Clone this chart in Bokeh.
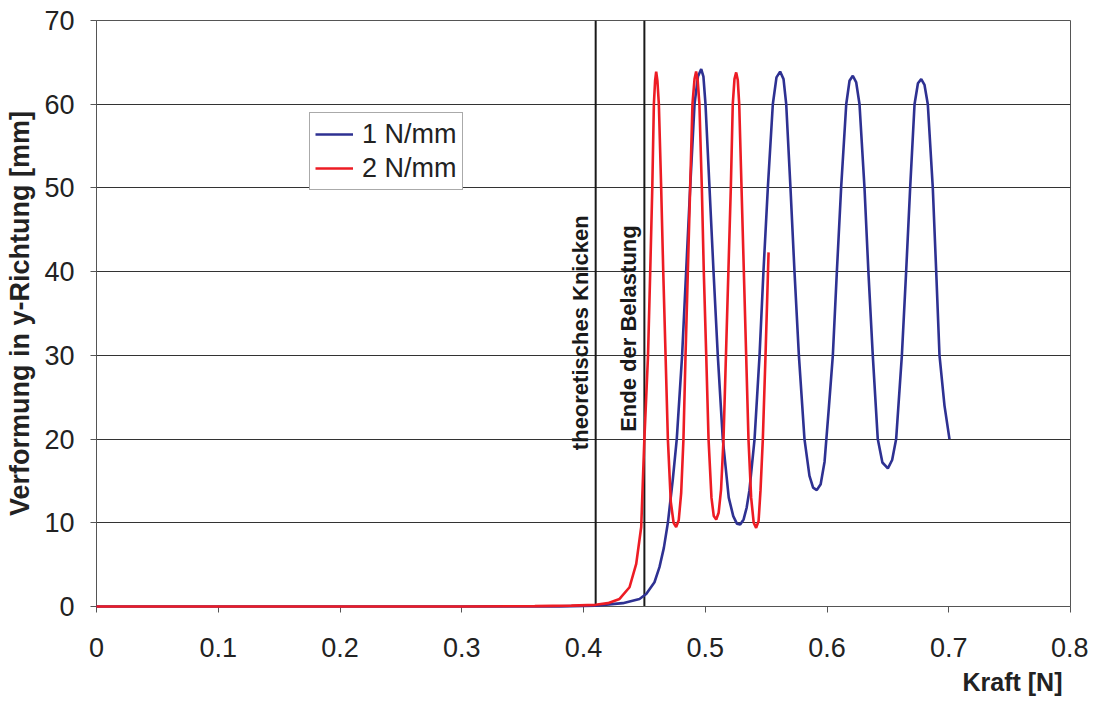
from bokeh.plotting import figure
from bokeh.models import Range1d, FixedTicker, Legend, LegendItem, Title, ColumnDataSource
from bokeh.core.properties import value
from bokeh.embed import file_html
from bokeh.resources import INLINE

# ---- data ----
blue_x = [0.0, 0.1, 0.2, 0.3, 0.38, 0.41, 0.4323, 0.446, 0.4515, 0.4583, 0.4624, 0.4660,
          0.4693, 0.4733, 0.4766, 0.481, 0.4843, 0.4876, 0.4912, 0.4940, 0.4967, 0.4985,
          0.5002, 0.5035, 0.5068, 0.5103, 0.5144, 0.5193, 0.5230, 0.5260, 0.5287, 0.5315,
          0.5340, 0.5363, 0.5405, 0.5446, 0.5478, 0.5514, 0.5555, 0.5585, 0.5615, 0.5643,
          0.5665, 0.570, 0.5733, 0.5769, 0.5815, 0.5856, 0.5886, 0.5916, 0.5948, 0.598,
          0.6015, 0.6048, 0.6081, 0.6116, 0.6158, 0.6185, 0.6212, 0.6240, 0.6267, 0.6308,
          0.634, 0.6376, 0.6417, 0.6455, 0.650, 0.6535, 0.6568, 0.6615, 0.665, 0.6683,
          0.6719, 0.6747, 0.6774, 0.6801, 0.6828, 0.6869, 0.6897, 0.6924, 0.6965, 0.7006]
blue_y = [0, 0, 0, 0, 0.02, 0.1, 0.4, 0.9, 1.5, 2.9, 4.7, 7.0,
          10, 15.1, 20, 30, 40, 50, 60, 63.3, 64.2, 63.3,
          60, 50, 40, 30, 20, 13, 10.8, 9.9, 9.8, 10.4,
          11.8, 13.9, 20, 30, 40, 50, 60, 63.2, 63.9, 63.0,
          60, 50, 40, 30, 20, 15.6, 14.2, 13.9, 14.6, 17.3,
          23.7, 30, 40, 50, 60, 62.8, 63.4, 62.6, 60, 50,
          40, 30, 20, 17.2, 16.5, 17.5, 20, 30, 40, 50,
          60, 62.5, 63.0, 62.3, 60, 50, 40, 30, 24, 20]

red_x = [0.0, 0.10, 0.20, 0.30, 0.36, 0.39, 0.41, 0.42, 0.4296, 0.4378, 0.4433, 0.4474,
         0.450, 0.453, 0.4548, 0.4565, 0.4578, 0.4588, 0.4597, 0.4607, 0.4619, 0.4638,
         0.4655, 0.4674, 0.4693, 0.4717, 0.4740, 0.4761, 0.4782, 0.4802, 0.4821, 0.4838,
         0.4857, 0.4876, 0.4895, 0.4912, 0.4925, 0.4938, 0.4952, 0.4972, 0.4988, 0.5008,
         0.5027, 0.5051, 0.5070, 0.509, 0.5110, 0.513, 0.515, 0.517, 0.519, 0.521,
         0.5226, 0.5240, 0.5254, 0.5267, 0.5279, 0.5298, 0.5317, 0.5336, 0.5355, 0.5377,
         0.5398, 0.5418, 0.5438, 0.5454, 0.5473, 0.5495, 0.552]
red_y = [0, 0, 0, 0, 0.05, 0.1, 0.2, 0.4, 0.9, 2.3, 5.1, 9.5,
         20, 30, 40, 50, 60, 62.8, 63.9, 62.8, 60, 50,
         40, 30, 20, 12.5, 10.0, 9.5, 10.3, 13.5, 20, 30,
         40, 50, 60, 63.0, 63.9, 62.8, 60, 50, 40, 30,
         20, 13, 10.8, 10.4, 11.2, 14.0, 20, 30, 40, 50,
         60, 63.0, 63.8, 62.9, 60, 50, 40, 30, 20, 13,
         10.0, 9.4, 10.2, 13.9, 20, 30, 42.3]

series_names = ["1 N/mm", "2 N/mm"]
marker_x = [0.41, 0.45]
marker_labels = ["theoretisches Knicken", "Ende der Belastung"]
marker_label_y = [32.7, 33.2]
x_ticks = [0, 0.1, 0.2, 0.3, 0.4, 0.5, 0.6, 0.7, 0.8]
x_tick_labels = ["0", "0.1", "0.2", "0.3", "0.4", "0.5", "0.6", "0.7", "0.8"]
y_ticks = [0, 10, 20, 30, 40, 50, 60, 70]
x_title = "Kraft [N]"
y_title = "Verformung in y-Richtung [mm]"

FONT = "Liberation Sans"
BLUE = "#2e3192"
RED = "#ed1c24"

p = figure(width=1088, height=702, output_backend="svg", toolbar_location=None,
           x_range=Range1d(0, 0.8), y_range=Range1d(0, 70),
           min_border_left=96, min_border_right=18, min_border_top=20, min_border_bottom=96)

p.background_fill_color = "white"
p.outline_line_color = "#555555"
p.outline_line_width = 1
p.xgrid.visible = False
p.ygrid.grid_line_color = "#333333"
p.ygrid.grid_line_width = 1

for ax in (p.xaxis[0], p.yaxis[0]):
    ax.major_label_text_font = FONT
    ax.major_label_text_font_size = "27px"
    ax.major_label_text_color = "#222222"
    ax.axis_line_color = "#555555"
    ax.major_tick_line_color = "#555555"
    ax.major_tick_in = 0
    ax.major_tick_out = 6
    ax.minor_tick_line_color = None

p.xaxis[0].ticker = FixedTicker(ticks=x_ticks)
p.xaxis[0].major_label_overrides = {t: l for t, l in zip(x_ticks, x_tick_labels)}
p.xaxis[0].major_label_standoff = 25
p.yaxis[0].ticker = FixedTicker(ticks=y_ticks)
p.yaxis[0].major_label_standoff = 16
p.yaxis[0].axis_label = y_title
p.yaxis[0].axis_label_text_font = FONT
p.yaxis[0].axis_label_text_font_style = "bold"
p.yaxis[0].axis_label_text_font_size = "27px"
p.yaxis[0].axis_label_text_color = "#222222"
p.yaxis[0].axis_label_standoff = 6

p.add_layout(Title(text=x_title, align="right", text_font=FONT, text_font_style="bold",
                   text_font_size="25px", text_color="#222222", offset=8, standoff=13), "below")

# vertical markers
msrc = ColumnDataSource(dict(x=marker_x, y0=[0] * len(marker_x), y1=[70] * len(marker_x),
                             ly=marker_label_y, text=marker_labels))
p.segment(x0="x", y0="y0", x1="x", y1="y1", source=msrc, line_color="#1a1a1a", line_width=2)
p.text(x="x", y="ly", text="text", source=msrc, angle=1.5707963, text_align="center",
       text_baseline="bottom", x_offset=-3, text_font=value(FONT), text_font_style="bold",
       text_font_size="22px", text_color="#1a1a1a")

r_blue = p.line(blue_x, blue_y, line_color=BLUE, line_width=2.6, level="overlay")
r_red = p.line(red_x, red_y, line_color=RED, line_width=2.6, level="overlay")

legend = Legend(items=[LegendItem(label=series_names[0], renderers=[r_blue]),
                       LegendItem(label=series_names[1], renderers=[r_red])],
                location=(213, 416), label_text_font=FONT, label_text_font_size="27px",
                label_text_color="#222222", glyph_width=38, glyph_height=32,
                label_height=32, label_standoff=9, spacing=2, padding=5, margin=0,
                border_line_color="#555555", border_line_width=1, background_fill_alpha=1)
p.add_layout(legend, "center")

open("out.html", "w").write(file_html(p, INLINE))
